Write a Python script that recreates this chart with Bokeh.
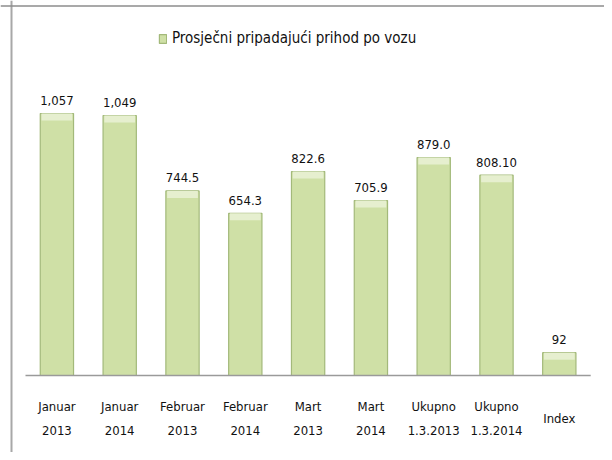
from bokeh.plotting import figure
from bokeh.models import ColumnDataSource, Range1d, Span, Legend, LegendItem
from bokeh.core.properties import value
from bokeh.embed import file_html
from bokeh.resources import INLINE

categories = ["Januar\n2013", "Januar\n2014", "Februar\n2013", "Februar\n2014",
              "Mart\n2013", "Mart\n2014", "Ukupno\n1.3.2013", "Ukupno\n1.3.2014", "Index"]
values = [1057, 1049, 744.5, 654.3, 822.6, 705.9, 879.0, 808.1, 92]
value_labels = ["1,057", "1,049", "744.5", "654.3", "822.6", "705.9", "879.0", "808.10", "92"]
series_name = "Prosječni pripadajući prihod po vozu"

FONT = "'Liberation Sans Narrow', 'DejaVu Sans Condensed', Roboto"

W, H = 604, 452
px_x = 62.8           # pixels per category
px_y = 262.0 / 1057   # pixels per unit
x0 = -56.4 / px_x
y_top = 375 / px_y
y_bot = -(H - 375) / px_y

xs = list(range(len(categories)))
src = ColumnDataSource(dict(
    x=xs, top=values, lab=value_labels, cat=categories,
    lab_y=[v + 13 / px_y for v in values],
    bev=[v - 7 / px_y for v in values],
))

p = figure(width=W, height=H, output_backend="svg", toolbar_location=None,
           x_range=Range1d(x0, x0 + W / px_x), y_range=Range1d(y_bot, y_top),
           min_border=0, min_border_left=0, min_border_right=0,
           min_border_top=0, min_border_bottom=0)
p.axis.visible = False
p.grid.visible = False
p.outline_line_color = None
p.background_fill_color = "white"
p.border_fill_color = "white"

# frame lines (left & top)
p.add_layout(Span(location=x0 + 11 / px_x, dimension="height", line_color="#a8a8a8", line_width=2))
p.add_layout(Span(location=y_top - 5.5 / px_y, dimension="width", line_color="#8c8c8c", line_width=1.5))

bars = p.vbar(x="x", top="top", bottom=0, width=0.53, source=src,
              fill_color="#cfe0a6", line_color="#a3b97a", line_width=1.2)
p.vbar(x="x", top="top", bottom="bev", width=0.49, source=src,
       fill_color="#e6efcf", line_color=None)

# baseline axis
p.segment(x0=[-0.5], y0=[0], x1=[len(categories) - 0.5], y1=[0],
          line_color="#9a9a9a", line_width=1.5)

p.text(x="x", y="lab_y", text="lab", source=src, text_font=value(FONT),
       text_font_size="13px", text_align="center", text_baseline="middle",
       text_color="#111111")

p.text(x="x", y=-(418 - 375) / px_y, text="cat", source=src, text_font=value(FONT),
       text_font_size="13px", text_align="center", text_baseline="middle",
       text_line_height=1.55, text_color="#111111")

legend = Legend(items=[LegendItem(label=series_name, renderers=[bars])],
                location=(158, H - 38 - 9), orientation="horizontal",
                label_text_font=FONT, label_text_font_size="15px",
                label_text_color="#111111",
                glyph_width=9, glyph_height=11, label_standoff=5,
                padding=0, margin=0, border_line_color=None,
                background_fill_alpha=0, label_height=18)
p.add_layout(legend)

open("out.html", "w").write(file_html(p, INLINE))
